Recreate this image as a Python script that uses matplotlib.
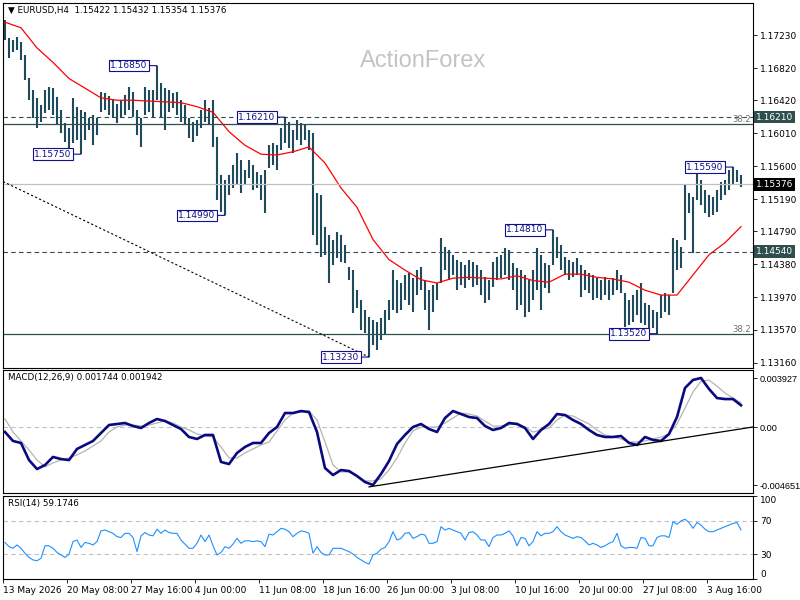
import numpy as np
import matplotlib.pyplot as plt
from matplotlib.transforms import blended_transform_factory

# EURUSD H4 - one entry per two H4 bars (high / low)
highs = [1.1742, 1.1719, 1.1717, 1.1720, 1.1714, 1.1698, 1.1670, 1.1655, 1.1645, 1.1636,
         1.1655, 1.1658, 1.1657, 1.1646, 1.1630, 1.1614, 1.1607, 1.1645, 1.1634, 1.1630,
         1.1627, 1.1620, 1.1624, 1.1620, 1.1652, 1.1651, 1.1647, 1.1642, 1.1637, 1.1642,
         1.1648, 1.1658, 1.1652, 1.1630, 1.1620, 1.1658, 1.1655, 1.1655, 1.1685, 1.1663,
         1.1657, 1.1655, 1.1651, 1.1652, 1.1642, 1.1636, 1.1620, 1.1615, 1.1617, 1.1630,
         1.1642, 1.1632, 1.1642, 1.1596, 1.1549, 1.1543, 1.1549, 1.1562, 1.1576, 1.1568,
         1.1555, 1.1568, 1.1562, 1.1553, 1.1549, 1.1555, 1.1586, 1.1589, 1.1586, 1.1607,
         1.1621, 1.1615, 1.1605, 1.1617, 1.1614, 1.1611, 1.1605, 1.1601, 1.1527, 1.1524,
         1.1485, 1.1475, 1.1468, 1.1478, 1.1475, 1.1462, 1.1435, 1.1431, 1.1406, 1.1394,
         1.1382, 1.1373, 1.1369, 1.1367, 1.1372, 1.1382, 1.1394, 1.1431, 1.1419, 1.1415,
         1.1425, 1.1427, 1.1421, 1.1431, 1.1435, 1.1419, 1.1406, 1.1412, 1.1415, 1.1471,
         1.1460, 1.1456, 1.1450, 1.1444, 1.1441, 1.1437, 1.1444, 1.1441, 1.1437, 1.1431,
         1.1422, 1.1419, 1.1441, 1.1447, 1.1450, 1.1458, 1.1456, 1.1440, 1.1434, 1.1431,
         1.1425, 1.1419, 1.1431, 1.1458, 1.1450, 1.1440, 1.1437, 1.1481, 1.1472, 1.1462,
         1.1447, 1.1444, 1.1441, 1.1446, 1.1437, 1.1431, 1.1427, 1.1425, 1.1421, 1.1419,
         1.1422, 1.1419, 1.1421, 1.1431, 1.1425, 1.1403, 1.1394, 1.1400, 1.1406, 1.1415,
         1.1390, 1.1388, 1.1382, 1.1379, 1.1400, 1.1403, 1.1400, 1.1471, 1.1468, 1.1460,
         1.1537, 1.1527, 1.1522, 1.1556, 1.1543, 1.1530, 1.1524, 1.1522, 1.1530, 1.1540,
         1.1543, 1.1555, 1.1559, 1.1555, 1.1549]
lows = [1.1717, 1.1694, 1.1702, 1.1704, 1.1692, 1.1667, 1.1642, 1.1620, 1.1607, 1.1615,
        1.1626, 1.1630, 1.1624, 1.1611, 1.1601, 1.1590, 1.1583, 1.1589, 1.1593, 1.1575,
        1.1593, 1.1605, 1.1586, 1.1599, 1.1627, 1.1630, 1.1624, 1.1620, 1.1614, 1.1620,
        1.1624, 1.1630, 1.1621, 1.1599, 1.1584, 1.1624, 1.1627, 1.1620, 1.1642, 1.1620,
        1.1605, 1.1627, 1.1632, 1.1624, 1.1615, 1.1611, 1.1595, 1.1590, 1.1598, 1.1607,
        1.1615, 1.1611, 1.1584, 1.1518, 1.1503, 1.1499, 1.1524, 1.1533, 1.1537, 1.1527,
        1.1537, 1.1545, 1.1530, 1.1533, 1.1518, 1.1502, 1.1558, 1.1562, 1.1555, 1.1580,
        1.1589, 1.1583, 1.1576, 1.1593, 1.1586, 1.1593, 1.1580, 1.1475, 1.1462, 1.1447,
        1.1450, 1.1415, 1.1437, 1.1446, 1.1441, 1.1440, 1.1419, 1.1378, 1.1384, 1.1357,
        1.1353, 1.1323, 1.1338, 1.1332, 1.1344, 1.1350, 1.1369, 1.1382, 1.1378, 1.1382,
        1.1394, 1.1388, 1.1379, 1.1400, 1.1406, 1.1382, 1.1357, 1.1379, 1.1394, 1.1415,
        1.1431, 1.1419, 1.1425, 1.1406, 1.1412, 1.1409, 1.1419, 1.1410, 1.1412, 1.1400,
        1.1390, 1.1394, 1.1410, 1.1419, 1.1421, 1.1425, 1.1419, 1.1406, 1.1382, 1.1388,
        1.1373, 1.1379, 1.1394, 1.1406, 1.1382, 1.1409, 1.1403, 1.1437, 1.1446, 1.1431,
        1.1425, 1.1419, 1.1422, 1.1425, 1.1398, 1.1406, 1.1403, 1.1394, 1.1396, 1.1394,
        1.1400, 1.1394, 1.1400, 1.1406, 1.1403, 1.1360, 1.1363, 1.1367, 1.1375, 1.1365,
        1.1363, 1.1357, 1.1359, 1.1352, 1.1372, 1.1379, 1.1375, 1.1403, 1.1431, 1.1434,
        1.1468, 1.1502, 1.1452, 1.1518, 1.1512, 1.1502, 1.1497, 1.1500, 1.1503, 1.1518,
        1.1524, 1.1530, 1.1537, 1.1540, 1.1534]

# red moving average, one value every 4 entries
ma_values = [1.1739, 1.1732, 1.1707, 1.1689, 1.1669, 1.1657, 1.1645, 1.1642, 1.1642, 1.1641,
             1.1640, 1.1639, 1.1634, 1.1627, 1.1603, 1.1586, 1.1575, 1.1574, 1.1578, 1.1584,
             1.1564, 1.1533, 1.1509, 1.1469, 1.1444, 1.1431, 1.1419, 1.1415, 1.1421, 1.1422,
             1.1421, 1.1420, 1.1424, 1.1418, 1.1416, 1.1426, 1.1426, 1.1422, 1.1420, 1.1416,
             1.1406, 1.1400, 1.1400, 1.1425, 1.1450, 1.1465, 1.1485]

# MACD(12,26,9), one value every 2 entries
macd_main = [-0.00040, -0.00112, -0.00128, -0.00265, -0.00337, -0.00305, -0.00240, -0.00257, -0.00265, -0.00176,
             -0.00144, -0.00112, -0.00048, 0.00016, 0.00024, 0.00032, 0.00008, -0.00008, 0.00032, 0.00064,
             0.00048, 0.00016, -0.00016, -0.00080, -0.00096, -0.00064, -0.00064, -0.00280, -0.00297, -0.00208,
             -0.00160, -0.00128, -0.00128, -0.00048, 0.00000, 0.00112, 0.00112, 0.00128, 0.00120, -0.00040,
             -0.00329, -0.00385, -0.00345, -0.00353, -0.00393, -0.00441, -0.00465, -0.00377, -0.00273, -0.00136,
             -0.00064, 0.00000, 0.00024, -0.00016, -0.00040, 0.00072, 0.00128, 0.00104, 0.00080, 0.00072,
             0.00008, -0.00024, -0.00008, 0.00032, 0.00024, -0.00008, -0.00096, -0.00024, 0.00024, 0.00104,
             0.00096, 0.00056, 0.00024, -0.00024, -0.00064, -0.00080, -0.00080, -0.00072, -0.00128, -0.00144,
             -0.00080, -0.00104, -0.00112, -0.00056, 0.00080, 0.00313, 0.00377, 0.00393, 0.00305, 0.00232,
             0.00224, 0.00224, 0.00174]
macd_signal = [0.00064, -0.00040, -0.00112, -0.00184, -0.00264, -0.00320, -0.00288, -0.00264, -0.00248, -0.00224,
               -0.00192, -0.00152, -0.00112, -0.00040, 0.00000, 0.00016, 0.00016, 0.00008, 0.00016, 0.00032,
               0.00048, 0.00032, 0.00000, -0.00024, -0.00056, -0.00072, -0.00080, -0.00160, -0.00248, -0.00248,
               -0.00208, -0.00176, -0.00144, -0.00120, -0.00032, 0.00056, 0.00112, 0.00120, 0.00128, 0.00056,
               -0.00120, -0.00304, -0.00360, -0.00360, -0.00392, -0.00432, -0.00432, -0.00416, -0.00344, -0.00248,
               -0.00128, -0.00032, 0.00000, 0.00000, 0.00000, 0.00032, 0.00072, 0.00112, 0.00104, 0.00088,
               0.00048, 0.00008, 0.00008, 0.00016, 0.00032, 0.00000, -0.00040, -0.00024, -0.00008, 0.00056,
               0.00096, 0.00088, 0.00056, 0.00024, -0.00024, -0.00064, -0.00080, -0.00096, -0.00120, -0.00120,
               -0.00112, -0.00096, -0.00080, -0.00056, 0.00024, 0.00152, 0.00280, 0.00368, 0.00376, 0.00328,
               0.00272, 0.00232, 0.00194]

# RSI(14), one value per entry
rsi_values = [44, 39, 37, 41, 37, 31, 26, 23, 22, 25,
              40, 40, 37, 32, 29, 26, 30, 45, 47, 38,
              44, 43, 41, 45, 58, 59, 57, 55, 51, 50,
              55, 55, 50, 33, 52, 56, 53, 52, 60, 55,
              59, 56, 55, 55, 47, 42, 37, 37, 43, 53,
              45, 53, 40, 29, 32, 39, 37, 42, 49, 43,
              46, 46, 45, 46, 45, 39, 54, 53, 57, 61,
              60, 57, 51, 55, 58, 57, 55, 31, 39, 32,
              29, 29, 37, 37, 37, 35, 33, 30, 26, 23,
              20, 18, 29, 31, 36, 38, 45, 57, 47, 49,
              55, 56, 49, 51, 54, 53, 43, 43, 45, 63,
              59, 61, 59, 57, 55, 47, 56, 57, 53, 47,
              47, 39, 50, 53, 53, 55, 58, 52, 40, 50,
              49, 40, 45, 57, 52, 55, 55, 57, 63, 57,
              53, 51, 49, 51, 50, 46, 41, 43, 41, 38,
              40, 43, 45, 55, 40, 37, 38, 38, 37, 50,
              49, 40, 40, 50, 52, 52, 50, 69, 66, 70,
              72, 68, 61, 68, 65, 60, 57, 57, 59, 61,
              63, 65, 67, 68, 59.17]

# swing high / low labels
label_idx = [38, 19, 70, 55, 91, 137, 163, 182]
label_price = [1.16850, 1.15750, 1.16210, 1.14990, 1.13230, 1.14810, 1.13520, 1.15590]

level_dashed = [1.16210, 1.14540]
fib_levels = [1.1612, 1.1352]
last_price = 1.15376
trend_idx = [-0.5, 91]
trend_price = [1.1541, 1.1323]
macd_trend_idx = [91, 187]
macd_trend_val = [-0.0048, 0.0]

price_ticks = [1.17230, 1.16820, 1.16420, 1.16010, 1.15600, 1.15190,
               1.14790, 1.14380, 1.13970, 1.13570, 1.13160]
date_labels = ["13 May 2026", "20 May 08:00", "27 May 16:00", "4 Jun 00:00",
               "11 Jun 08:00", "18 Jun 16:00", "26 Jun 00:00", "3 Jul 08:00",
               "10 Jul 16:00", "20 Jul 00:00", "27 Jul 08:00", "3 Aug 16:00"]

bar_color = '#1f4a5c'
level_color = '#2f4f4f'
fs = 6.5

fig = plt.figure(figsize=(8, 6), dpi=100)
ax1 = fig.add_axes([3 / 800, 1 - 368 / 600, 750 / 800, 365 / 600])
ax2 = fig.add_axes([3 / 800, 1 - 493 / 600, 750 / 800, 123 / 600])
ax3 = fig.add_axes([3 / 800, 1 - 579 / 600, 750 / 800, 83 / 600])

xlim = (-0.5, 187)
for ax in (ax1, ax2, ax3):
    ax.set_xlim(*xlim)
    for s in ax.spines.values():
        s.set_linewidth(0.8)
        s.set_color('black')
    ax.yaxis.tick_right()
    ax.tick_params(axis='y', labelsize=fs, length=3, width=0.6, pad=2)
    ax.tick_params(axis='x', bottom=False, labelbottom=False)

# ---- main price panel ----
x = np.arange(len(highs))
ax1.vlines(x, lows, highs, color=bar_color, lw=1.5)
ax1.plot(np.arange(len(ma_values)) * 4, ma_values, color='red', lw=0.9)

for lv in level_dashed:
    ax1.axhline(lv, color=level_color, lw=0.8, ls=(0, (4, 3)))
for lv in fib_levels:
    ax1.axhline(lv, color=level_color, lw=0.9)
    ax1.text(186.5, lv, '38.2', ha='right', va='bottom', fontsize=6, color='#707070')
ax1.axhline(last_price, color='#c0c0c0', lw=0.9)
ax1.plot(trend_idx, trend_price, color='black', lw=0.8, ls=(0, (2, 2)))

for idx, p in zip(label_idx, label_price):
    ax1.annotate(f'{p:.5f}', xy=(idx, p), xytext=(-7, 0), textcoords='offset points',
                 ha='right', va='center', fontsize=fs, color='#10108c',
                 bbox=dict(boxstyle='square,pad=0.15', fc='white', ec='#10108c', lw=0.8),
                 arrowprops=dict(arrowstyle='-', color='#10108c', lw=0.8,
                                 shrinkA=0, shrinkB=0))

ax1.set_ylim(1.13094, 1.17628)
ax1.set_yticks(price_ticks, labels=[f'{v:.5f}' for v in price_ticks])

tr = blended_transform_factory(ax1.transAxes, ax1.transData)
for lv, bg in [(1.16210, level_color), (last_price, 'black'), (1.14540, level_color)]:
    ax1.text(1.004, lv, f'{lv:.5f}', transform=tr, ha='left', va='center',
             fontsize=fs, color='white',
             bbox=dict(boxstyle='square,pad=0.2', fc=bg, ec='none'))

ax1.text(0.006, 0.993, '\u25bc EURUSD,H4  1.15422 1.15432 1.15354 1.15376',
         transform=ax1.transAxes, ha='left', va='top', fontsize=6.3)
ax1.text(0.56, 0.84, 'ActionForex', transform=ax1.transAxes, ha='center', va='center',
         fontsize=17, color='#c4c4c4', family='Liberation Sans')

# ---- MACD panel ----
xm = np.arange(len(macd_main)) * 2
ax2.axhline(0, color='#c0c0c0', lw=0.8, ls=(0, (4, 3)))
ax2.plot(xm, macd_signal, color='#b4b4b4', lw=0.9)
ax2.plot(xm, macd_main, color='#0a0a80', lw=1.9)
ax2.plot(macd_trend_idx, macd_trend_val, color='black', lw=0.9)
ax2.set_ylim(-0.00529, 0.004569)
ax2.set_yticks([0.003927, 0.0, -0.004651], labels=['0.003927', '0.00', '-0.004651'])
ax2.tick_params(axis='y', labelsize=6, pad=1.5)
for t in ax2.get_yticklabels():
    t.set_family('Liberation Sans')
    t.set_fontsize(6.6)
ax2.text(0.006, 0.975, 'MACD(12,26,9) 0.001744 0.001942', transform=ax2.transAxes,
         ha='left', va='top', fontsize=6.3)

# ---- RSI panel ----
ax3.axhline(70, color='#c0c0c0', lw=0.8, ls=(0, (4, 3)))
ax3.axhline(30, color='#c0c0c0', lw=0.8, ls=(0, (4, 3)))
ax3.plot(np.arange(len(rsi_values)), rsi_values, color='#1e90ff', lw=0.8)
ax3.set_ylim(0, 100)
ax3.set_yticks([100, 70, 30, 0], labels=['100', '70', '30', '0'])
yl = ax3.get_yticklabels()
yl[0].set_va('top')
yl[-1].set_va('bottom')
ax3.text(0.006, 0.96, 'RSI(14) 59.1746', transform=ax3.transAxes,
         ha='left', va='top', fontsize=6.3)

tick_pos = np.arange(len(date_labels)) * 16 - 0.5
ax3.set_xticks(tick_pos, labels=date_labels)
ax3.tick_params(axis='x', bottom=True, labelbottom=True, labelsize=fs,
                length=3, width=0.6, pad=2)
for t in ax3.get_xticklabels():
    t.set_ha('left')

fig.savefig('out.png', dpi=100)
